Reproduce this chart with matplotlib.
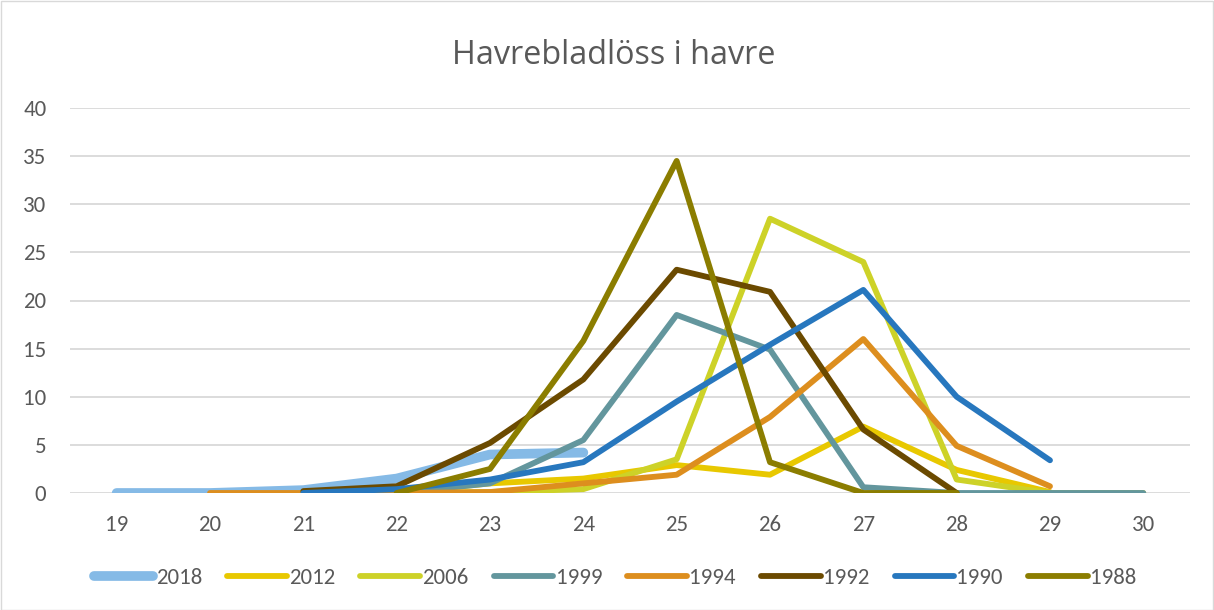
import numpy as np
import matplotlib
matplotlib.use("Agg")
import matplotlib.pyplot as plt
from matplotlib.patches import Rectangle

nan = np.nan
weeks = [19, 20, 21, 22, 23, 24, 25, 26, 27, 28, 29, 30]

s2018 = [0, 0, 0.3, 1.5, 4.0, 4.2, nan, nan, nan, nan, nan, nan]
s2012 = [nan, nan, nan, 0, 1.0, 1.5, 2.9, 1.9, 6.9, 2.4, 0.1, nan]
s2006 = [nan, nan, nan, 0, 0.1, 0.4, 3.5, 28.5, 24.0, 1.4, 0, 0]
s1999 = [nan, nan, nan, 0, 1.0, 5.5, 18.5, 14.9, 0.6, 0, 0, 0]
s1994 = [nan, 0, 0, 0, 0.1, 1.0, 1.9, 7.9, 16.0, 4.9, 0.7, nan]
s1992 = [nan, nan, 0.2, 0.7, 5.2, 11.8, 23.2, 20.9, 6.6, 0, nan, nan]
s1990 = [nan, nan, 0, 0.4, 1.4, 3.2, 9.5, 15.4, 21.1, 10.0, 3.4, nan]
s1988 = [nan, nan, nan, 0, 2.5, 15.8, 34.5, 3.2, 0, 0, nan, nan]

labels = ["2018", "2012", "2006", "1999", "1994", "1992", "1990", "1988"]
series = [s2018, s2012, s2006, s1999, s1994, s1992, s1990, s1988]
colors = ["#85BAE6", "#E8C800", "#CDD228", "#63969D", "#DD8E1E", "#6B4A00", "#2777BE", "#8B7D00"]
widths = [7.0, 4.2, 4.2, 4.2, 4.2, 4.2, 4.2, 4.2]

plt.rcParams['font.family'] = ['Carlito', 'Open Sans', 'DejaVu Sans']
W, H = 1214, 610
fig = plt.figure(figsize=(W / 100, H / 100), dpi=100)
ax = fig.add_axes([70 / W, 1 - 493 / H, (1190 - 70) / W, (493 - 108) / H])

for lab, s, c, lw in zip(labels, series, colors, widths):
    ax.plot(weeks, s, color=c, lw=lw, label=lab,
            solid_capstyle='round', solid_joinstyle='round', zorder=3)

ax.set_xlim(18.5, 30.5)
ax.set_ylim(0, 40)
ax.set_yticks(range(0, 41, 5))
ax.set_xticks(weeks)
ax.grid(axis='y', color='#D9D9D9', lw=1.3, zorder=0)
for sp in ax.spines.values():
    sp.set_visible(False)
ax.tick_params(length=0, labelsize=16.5, colors='#595959')
ax.tick_params(axis='y', pad=17)
ax.tick_params(axis='x', pad=16)

fig.text(614 / W, 1 - 64 / H, "Havrebladlöss i havre", ha='center', va='baseline',
         fontsize=23.3, color='#595959', family=['Open Sans', 'DejaVu Sans'])

fig.legend(loc='center', bbox_to_anchor=(615 / W, 1 - 578 / H), ncol=8,
           frameon=False, fontsize=16.5, labelcolor='#595959',
           handlelength=2.6, handletextpad=0.1, columnspacing=1.1)

fig.patches.append(Rectangle((0.5 / W, 0.5 / H), 1 - 1.5 / W, 1 - 1.5 / H,
                             transform=fig.transFigure, fill=False,
                             edgecolor='#D9D9D9', lw=1))

fig.savefig("out.png", dpi=100, facecolor='white')
